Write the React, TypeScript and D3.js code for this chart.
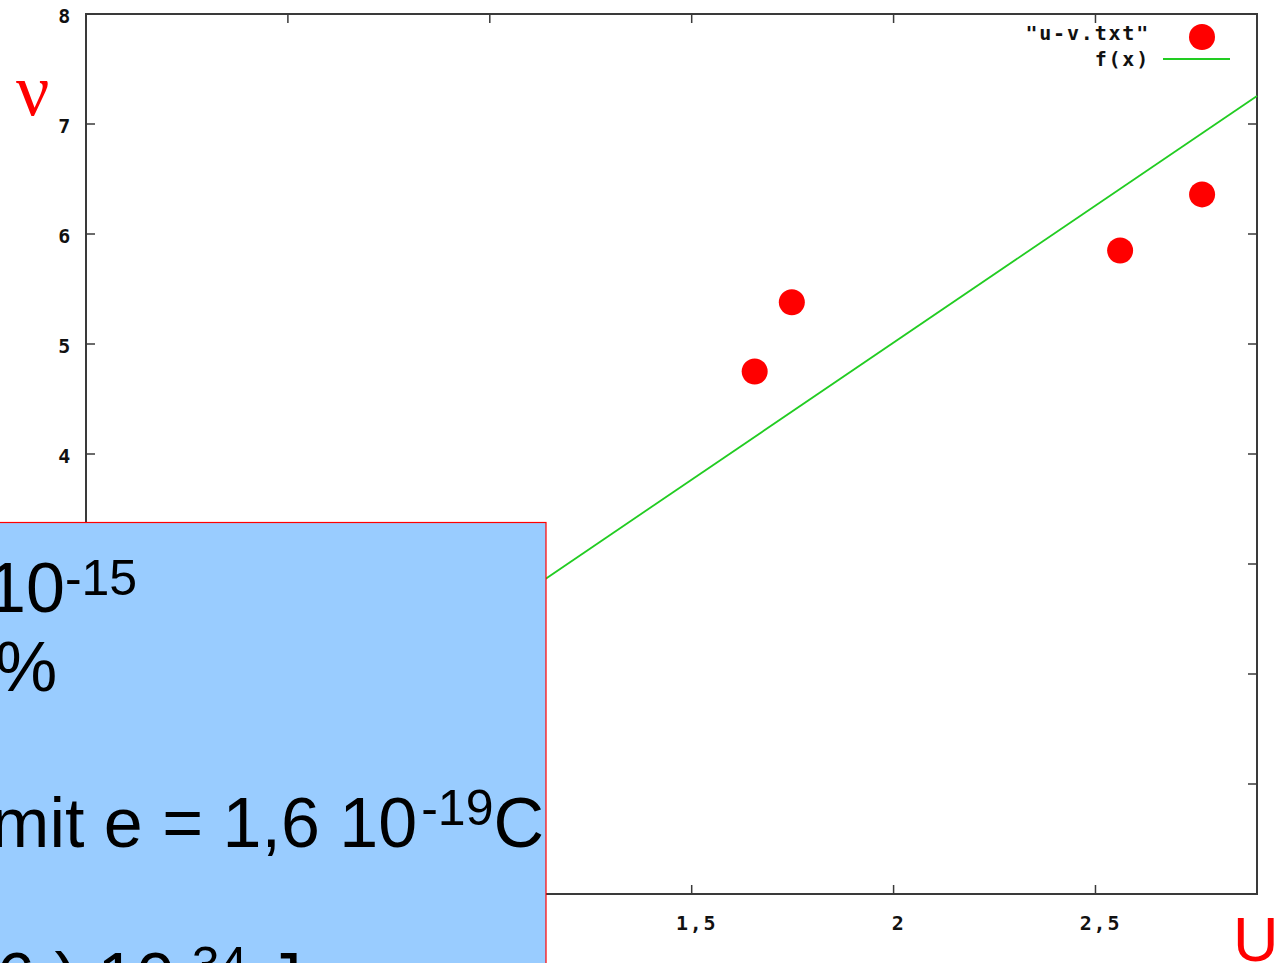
import React from 'react';
import * as d3 from 'd3';

// Data
const voltageU = [1.656, 1.748, 2.561, 2.764];
const frequencyNu = [4.75, 5.38, 5.85, 6.36];
const fitU = [0, 2.9];
const fitNu = [0.03, 7.255];
const xTickValues = [0, 0.5, 1, 1.5, 2, 2.5];
const yTickValues = [0, 1, 2, 3, 4, 5, 6, 7, 8];
const legendLabels = ['"u-v.txt"', 'f(x)'];

const W = 1282;
const H = 963;
const M = { left: 86, right: 1257, top: 14, bottom: 894 };
const monoFont = '"DejaVu Sans Mono", monospace';
const sansFont = '"Liberation Sans", Arial, sans-serif';

export default function App() {
  const x = d3.scaleLinear().domain([0, 2.9]).range([M.left, M.right]);
  const y = d3.scaleLinear().domain([0, 8]).range([M.bottom, M.top]);
  const fitLine = d3
    .line<number>()
    .x((_, i) => x(fitU[i]))
    .y((d) => y(d))(fitNu) as string;
  const fmt = (v: number) => String(v).replace('.', ',');
  const axisColor = '#3a3a3a';
  const tickLen = 9;
  const lblSize = 20;
  const lblSpacing = 1.8;

  return (
    <div style={{ position: 'absolute', left: 0, top: 0, width: W, height: H, overflow: 'hidden' }}>
      <svg width={W} height={H} style={{ display: 'block', background: '#ffffff' }}>
        {/* frame */}
        <rect x={M.left} y={M.top} width={M.right - M.left} height={M.bottom - M.top}
          fill="none" stroke={axisColor} strokeWidth={2} />
        {/* x ticks */}
        {xTickValues.map((t) => (
          <g key={'xt' + t}>
            <line x1={x(t)} x2={x(t)} y1={M.bottom} y2={M.bottom - tickLen} stroke={axisColor} strokeWidth={1.5} />
            <line x1={x(t)} x2={x(t)} y1={M.top} y2={M.top + tickLen} stroke={axisColor} strokeWidth={1.5} />
            <text x={x(t) + 5} y={930} textAnchor="middle" fontFamily={monoFont} fontWeight="bold"
              fontSize={lblSize} letterSpacing={lblSpacing} fill="#111">{fmt(t)}</text>
          </g>
        ))}
        {/* y ticks */}
        {yTickValues.map((t) => (
          <g key={'yt' + t}>
            <line x1={M.left} x2={M.left + tickLen} y1={y(t)} y2={y(t)} stroke={axisColor} strokeWidth={1.5} />
            <line x1={M.right} x2={M.right - tickLen} y1={y(t)} y2={y(t)} stroke={axisColor} strokeWidth={1.5} />
            <text x={72} y={y(t) + 9} textAnchor="end" fontFamily={monoFont} fontWeight="bold"
              fontSize={lblSize} letterSpacing={lblSpacing} fill="#111">{t}</text>
          </g>
        ))}
        {/* fit line */}
        <path d={fitLine} fill="none" stroke="#22cc22" strokeWidth={1.8} />
        {/* data points */}
        {voltageU.map((u, i) => (
          <circle key={'p' + i} cx={x(u)} cy={y(frequencyNu[i])} r={13} fill="#ff0000" />
        ))}
        {/* legend */}
        <text x={1150} y={40} textAnchor="end" fontFamily={monoFont} fontWeight="bold" fontSize={lblSize}
          letterSpacing={lblSpacing} fill="#111">{legendLabels[0]}</text>
        <circle cx={1202} cy={37} r={13} fill="#ff0000" />
        <text x={1150} y={66} textAnchor="end" fontFamily={monoFont} fontWeight="bold" fontSize={lblSize}
          letterSpacing={lblSpacing} fill="#111">{legendLabels[1]}</text>
        <line x1={1163} x2={1230} y1={59} y2={59} stroke="#22cc22" strokeWidth={1.8} />

        {/* axis names */}
        <text x={16} y={115} fontFamily='"Liberation Serif", "DejaVu Serif", serif' fontSize={74} fill="#ff0000">ν</text>
        <text x={1233} y={961} fontFamily={sansFont} fontSize={63} fill="#ff0000">U</text>

        {/* overlay box */}
        <rect x={-10} y={522.5} width={556} height={470} fill="#99ccff" stroke="#ff0000" strokeWidth={1.2} />
        <g fontFamily={sansFont} fill="#000000">
          <text x={-13} y={612} fontSize={70}>
            10<tspan dy={-17} fontSize={50}>-15</tspan>
          </text>
          <text x={-5} y={691} fontSize={70}>%</text>
          <text x={544} y={847} fontSize={70} textAnchor="end">
            mit e = 1,6 10<tspan dx={4} dy={-22} fontSize={50}>-19</tspan><tspan dy={22}>C</tspan>
          </text>
          <text x={-4} y={1002} fontSize={70}>
            6 ) 10<tspan dy={-20} fontSize={50}>-34</tspan><tspan dy={20}> Js</tspan>
          </text>
        </g>
      </svg>
    </div>
  );
}
